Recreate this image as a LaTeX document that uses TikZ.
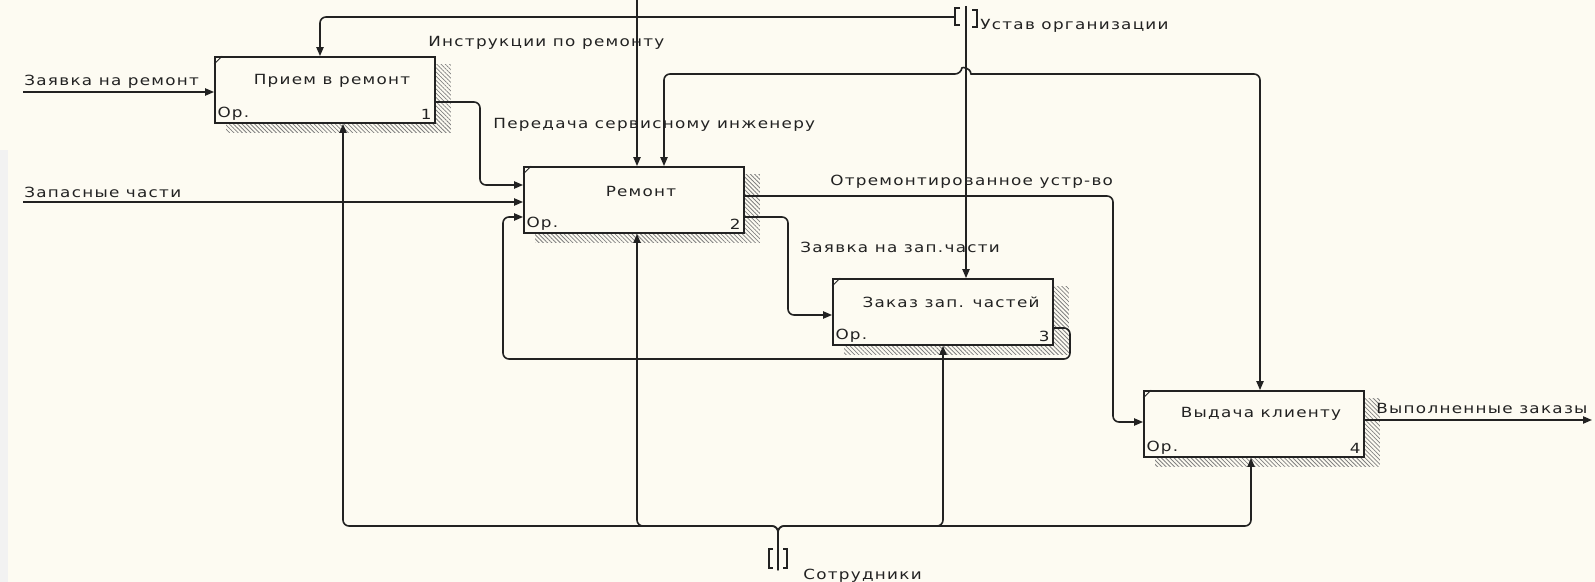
\documentclass[tikz,border=0pt]{standalone}
\usepackage{fontspec}
\setmainfont{DejaVu Sans}[FakeStretch=1.2,LetterSpace=9]
\usetikzlibrary{arrows.meta,patterns.meta,backgrounds}
\definecolor{paper}{RGB}{253,251,242}
\definecolor{ink}{RGB}{34,34,34}

\begin{document}
\begin{tikzpicture}[x=0.5pt,y=-0.5pt,>={Triangle[length=4.5pt,width=3.6pt]},
  font=\fontsize{7}{8}\selectfont,text=ink,
  act/.style={draw=ink,line width=0.9pt,fill=paper,minimum width=110pt,minimum height=33pt,inner sep=0pt},
  arr/.style={draw=ink,line width=0.8pt,rounded corners=3pt},
  lbl/.style={inner sep=0pt,anchor=west},
  hatch/.style={pattern={Lines[angle=-45,distance=1.5pt,line width=0.4pt]},pattern color=gray},
  brk/.style={draw=ink,line width=0.6pt}]
\useasboundingbox (0,0) rectangle (1595,582);

% activity boxes
\node[act] (b1) at (325,90) {};
\node[act] (b2) at (634,200) {};
\node[act] (b3) at (943,312) {};
\node[act] (b4) at (1254,424) {};

\begin{scope}[on background layer]
\fill[paper] (0,0) rectangle (1595,582);
\fill[gray!10] (0,150) rectangle (8,582);
\foreach \b in {b1,b2,b3,b4}
  \fill[hatch] ([xshift=6pt,yshift=-4pt]\b.north west) rectangle ([xshift=7.5pt,yshift=-4.5pt]\b.south east);
\end{scope}

\foreach \b in {b1,b2,b3,b4}
  \draw[ink,line width=0.4pt] ([yshift=-4pt]\b.north west) -- ([xshift=4pt]\b.north west);

\node at ([xshift=3.5pt,yshift=-12.5pt]b1.north) {Прием в ремонт};
\node at ([xshift=3.5pt,yshift=-12.5pt]b2.north) {Ремонт};
\node at ([xshift=4pt,yshift=-12pt]b3.north) {Заказ зап. частей};
\node at ([xshift=3.5pt,yshift=-12pt]b4.north) {Выдача клиенту};
\foreach \b/\n in {b1/1,b2/2,b3/3,b4/4}{
  \node[anchor=south west,inner sep=1.5pt] at (\b.south west) {Ор.};
  \node[anchor=south east,inner sep=2pt] at (\b.south east) {\n};
}

% tunnels
\coordinate (ust) at (966,6);
\coordinate (staff) at (778,570);
\draw[brk] (960,8) -- (955,8) -- (955,25) -- (960,25);
\draw[brk] (972,10) -- (977,10) -- (977,27) -- (972,27);
\draw[brk] (773,549) -- (769,549) -- (769,568) -- (773,568);
\draw[brk] (783,549) -- (787,549) -- (787,568) -- (783,568);

% inputs
\coordinate (in1) at (23,92);
\coordinate (in2) at (23,202);
\draw[arr,->] (in1) -- (in1 -| b1.west);
\draw[arr,->] (in2) -- (in2 -| b2.west);
\node[lbl] at (24,82) {Заявка на ремонт};
\node[lbl] at (24,192) {Запасные части};

% controls
\coordinate (ctl1) at (637,0);
\coordinate (ctl2) at (664,74);
\draw[arr,->] (ctl1) -- (ctl1 |- b2.north);
\draw[arr,->] (ust) -- (ust |- b3.north);
\draw[arr,->] (955,17) -| ([xshift=-2.5pt]b1.north);
\draw[arr,<->] (ctl2 |- b2.north) -- (ctl2) -- (961,74) [sharp corners] .. controls (962,67) and (970,67) .. (971,74) [rounded corners=3pt] -- (1260,74) -- (1260,74 |- b4.north);
\node[lbl] at (428,43) {Инструкции по ремонту};
\node[lbl] at (980,26) {Устав организации};

% outputs
\draw[arr,->] ([yshift=-6pt]b1.east) -| (480,185) -- (b2.west |- 0,185);
\draw[arr,->] ([yshift=2pt]b2.east) -| (1113,422) -- (b4.west |- 0,422);
\draw[arr,->] ([yshift=-8.5pt]b2.east) -| (788,315) -- (b3.west |- 0,315);
\draw[arr,->] ([yshift=-8pt]b3.east) -| (1070,359) -| (503,217) -- (b2.west |- 0,217);
\coordinate (out4) at (1592,420);
\draw[arr,->] ([yshift=2pt]b4.east) -- (out4);
\node[lbl] at (493,125) {Передача сервисному инженеру};
\node[lbl] at (830,182) {Отремонтированное устр-во};
\node[lbl] at (800,247) {Заявка на зап.части};
\node[lbl] at (1376,408) {Выполненные заказы};

% mechanisms
\draw[arr,->] (staff) |- (343,526) -- (343,526 |- b1.south);
\draw[arr,->] (staff) |- (637,526) -- (637,526 |- b2.south);
\draw[arr,->] (staff) |- (943,526) -- (943,526 |- b3.south);
\draw[arr,->] (staff) |- (1251,526) -- (1251,526 |- b4.south);
\node[lbl] at (803,576) {Сотрудники};
\end{tikzpicture}
\end{document}
